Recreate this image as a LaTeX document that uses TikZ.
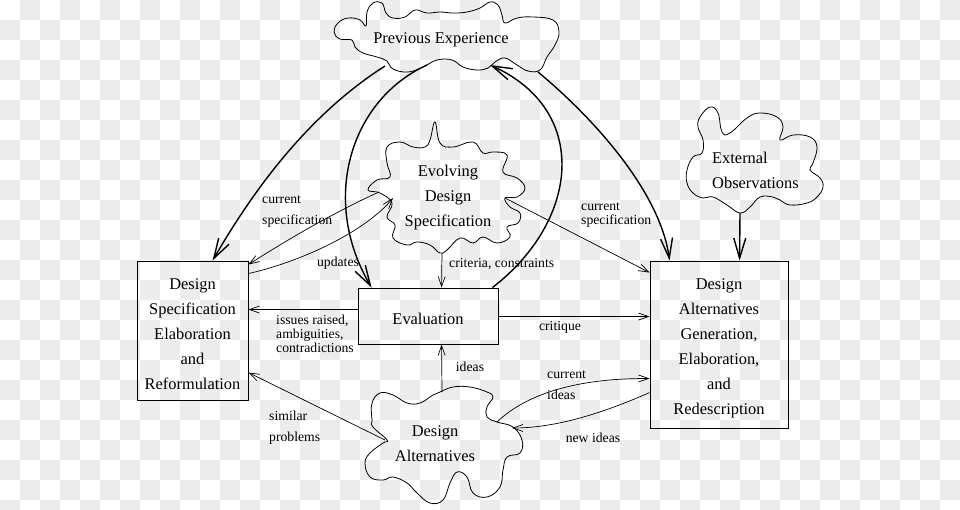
\documentclass[tikz,border=0pt]{standalone}
\usepackage{fontspec}
\setmainfont{Liberation Serif}
\usetikzlibrary{arrows.meta}
\definecolor{chk}{RGB}{236,236,236}
\newcommand\dmainfont{\fontsize{16.4}{25}\selectfont}
\newcommand\dlblwide{\fontsize{13.7}{21}\selectfont}
\newcommand\dlbltight{\fontsize{13.7}{14}\selectfont}
\begin{document}
\begin{tikzpicture}[x=1pt,y=-1pt,
  boxnode/.style={draw, line width=0.9pt, inner sep=0pt},
  boxtext/.style={inner sep=0pt, align=center, font=\dmainfont},
  cloudline/.style={line width=0.8pt},
  cloudtext/.style={inner sep=0pt, font=\dmainfont},
  thickarrow/.style={line width=1.4pt, -{Straight Barb[length=20pt,width=12pt]}},
  thinarrow/.style={line width=0.7pt, -{Straight Barb[length=10pt,width=7pt]}},
  lblw/.style={inner sep=0pt, font=\dlblwide, align=left},
  lblt/.style={inner sep=0pt, font=\dlbltight, align=left}]
\useasboundingbox (0,0) rectangle (960,509);
% transparency checkerboard
\begin{scope}
\clip (0,0) rectangle (960,509);
\fill[white] (0,0) rectangle (960,509);
\foreach \j in {0,2,...,24}{\foreach \i in {1,3,...,47}{\fill[chk] (20*\i,20*\j) rectangle ++(20,20);}}
\foreach \j in {1,3,...,25}{\foreach \i in {0,2,...,46}{\fill[chk] (20*\i,20*\j) rectangle ++(20,20);}}
\end{scope}

% clouds
\draw[cloudline] plot[smooth cycle, tension=0.7] coordinates {
(334,32) (338,23) (348,18) (360,20) (366,26) (367,12) (373,3) (382,3) (386,13)
(393,18) (405,17) (415,10) (427,13) (440,12) (453,13) (467,12) (480,8) (490,2)
(498,5) (502,15) (505,23) (517,18) (533,17) (553,20) (559,32) (555,45) (547,57)
(540,70) (528,71) (517,65) (505,58) (495,62) (488,68) (477,70) (463,67) (452,60)
(437,60) (423,67) (408,72) (393,69) (387,61) (377,57) (363,53) (355,47) (352,40) (340,39)};
\node[cloudtext] (pe) at (441,40) {Previous Experience};

\draw[cloudline] plot[smooth cycle, tension=0.7] coordinates {
(435,122) (440,143) (453,147) (473,142) (483,153) (493,152) (507,155) (503,172)
(517,178) (525,188) (517,197) (505,198) (510,207) (520,213) (518,223) (507,227)
(510,237) (497,243) (483,237) (473,243) (460,238) (447,250) (440,253) (430,245)
(417,242) (407,245) (393,238) (395,225) (387,217) (392,203) (380,193) (368,190)
(377,180) (390,177) (387,163) (387,147) (400,142) (413,147) (425,147) (430,140)};
\node[cloudtext, align=center] (eds) at (448,198) {Evolving\\Design\\Specification};

\draw[cloudline] plot[smooth cycle, tension=0.7] coordinates {
(700,117) (710,107) (718,113) (722,132) (730,133) (747,118) (760,113) (777,117)
(783,127) (780,140) (793,135) (810,137) (817,147) (813,163) (810,170) (820,178)
(823,187) (817,197) (807,203) (790,205) (780,200) (773,197) (760,197) (750,207)
(740,213) (727,205) (713,197) (703,198) (693,193) (687,183) (687,170) (693,157)
(702,153) (703,140) (698,127)};
\node[cloudtext, align=left, anchor=west] (ext) at (712,170.5) {External\\Observations};

\draw[cloudline] plot[smooth cycle, tension=0.7] coordinates {
(440,392) (453,387) (470,387) (487,392) (493,397) (487,407) (487,417) (497,422)
(513,427) (522,440) (520,453) (507,457) (503,470) (500,487) (487,497) (473,493)
(467,477) (457,472) (450,483) (443,500) (430,503) (417,493) (407,483) (393,477)
(383,480) (370,477) (365,463) (370,453) (383,443) (387,440) (373,427) (372,420)
(372,403) (380,393) (393,395) (407,403) (420,403) (433,395)};
\node[cloudtext, align=center] (da) at (435,444) {Design\\Alternatives};

% attachment points on the clouds
\coordinate (pe-a) at (385,66);
\coordinate (pe-b) at (427,65);
\coordinate (pe-c) at (490,65);
\coordinate (pe-d) at (538,72);
\coordinate (eds-l) at (379,192);
\coordinate (eds-u) at (393,198);
\coordinate (eds-b) at (442,253);
\coordinate (eds-r) at (505,198);
\coordinate (ext-b) at (740,213);
\coordinate (da-t) at (442,392);
\coordinate (da-r1) at (497,422);
\coordinate (da-r2) at (512,428);
\coordinate (da-l) at (385,440);

% boxes
\node[boxnode, minimum width=111pt, minimum height=139pt] (dsb) at (192.5,330.5) {};
\node[boxtext] (dsb-t) at ([yshift=-3.5pt]dsb.center)
  {Design\\Specification\\Elaboration\\and\\Reformulation};
\node[boxnode, minimum width=140pt, minimum height=56pt] (ev) at (428,316) {};
\node[boxtext] (ev-t) at ([yshift=-3pt]ev.center) {Evaluation};
\node[boxnode, minimum width=138pt, minimum height=167pt] (dab) at (719,344.5) {};
\node[boxtext] (dab-t) at ([yshift=-4pt]dab.center)
  {Design\\Alternatives\\Generation,\\Elaboration,\\and\\Redescription};

% thick arrows
\draw[thickarrow] (pe-a) .. controls (300,120) and (245,205) .. ([xshift=76pt]dsb.north west);
\draw[thickarrow] (pe-b) .. controls (350,100) and (320,200) .. ([xshift=14pt]ev.north west);
\draw[thickarrow] ([xshift=-6pt]ev.north east) .. controls (580,220) and (590,110) .. (pe-c);
\draw[thickarrow] (pe-d) .. controls (590,115) and (660,190) .. ([xshift=20pt]dab.north west);
\draw[thickarrow] (ext-b) -- ([xshift=90pt]dab.north west);

% thin arrows
\draw[thinarrow] (eds-l) .. controls (335,212) and (290,238) .. ([yshift=-4pt]dsb.north east);
\draw[thinarrow] ([yshift=-13pt]dsb.north east) .. controls (300,262) and (365,232) .. (eds-u);
\draw[thinarrow] (eds-b) -- ([xshift=84pt]ev.north west);
\draw[thinarrow] (eds-r) -- ([yshift=-12pt]dab.north west);
\draw[thinarrow] ([yshift=-22pt]ev.north west) -- ([yshift=-49pt]dsb.north east);
\draw[thinarrow] ([yshift=-29pt]ev.north east) -- ([yshift=-56pt]dab.north west);
\draw[thinarrow] (da-t) -- ([xshift=84pt]ev.south west);
\draw[thinarrow] (da-r1) .. controls (525,395) and (575,378) .. ([yshift=-118pt]dab.north west);
\draw[thinarrow] ([yshift=-132pt]dab.north west) .. controls (610,410) and (560,428) .. (da-r2);
\draw[thinarrow] (da-l) -- ([yshift=-112pt]dsb.north east);

% labels
\node[lblw, anchor=west] (l1) at (262,212) {current\\specification};
\node[lblw] (l2) at (338,263) {updates};
\node[lblw, anchor=west] (l3) at (449,264) {criteria, constraints};
\node[lblt, anchor=west] (l4) at (581,215) {current\\specification};
\node[lblt, anchor=west] (l5) at (276,334) {issues raised,\\ambiguities,\\contradictions};
\node[lblw] (l6) at (560,327) {critique};
\node[lblw] (l7) at (470,367) {ideas};
\node[lblw, anchor=west] (l8) at (547,385) {current\\ideas};
\node[lblw] (l9) at (593,438) {new ideas};
\node[lblw, anchor=west] (l10) at (269,427.5) {similar\\problems};
\end{tikzpicture}
\end{document}
